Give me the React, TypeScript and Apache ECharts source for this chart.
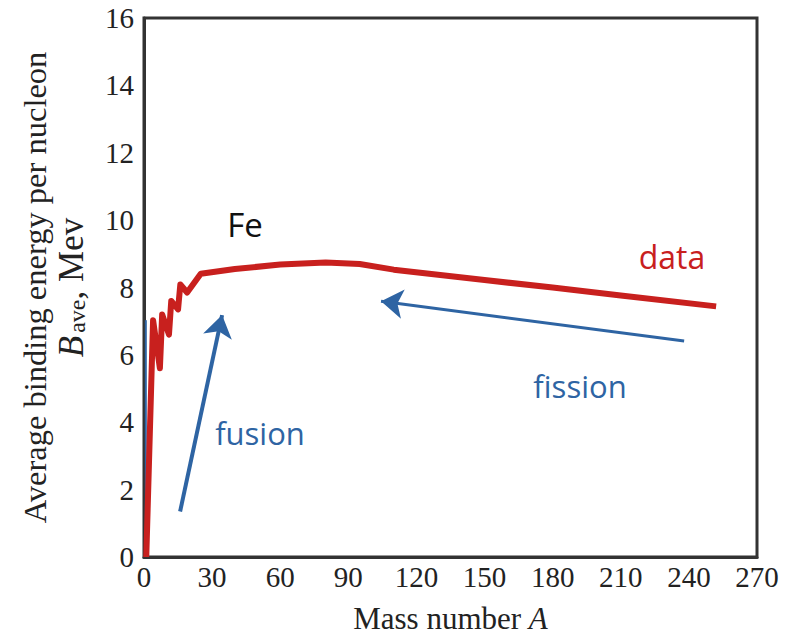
import React, { useEffect, useRef } from "react";
import * as echarts from "echarts";

// Mass number A and average binding energy per nucleon (MeV)
const massNumber = [1, 4, 7, 8, 11, 12, 15, 16, 19, 25, 40, 60, 80, 95, 110, 150, 180, 210, 252];
const bindingEnergy = [0, 7.03, 5.6, 7.2, 6.6, 7.6, 7.35, 8.09, 7.85, 8.41, 8.55, 8.68, 8.74, 8.7, 8.53, 8.22, 8.0, 7.76, 7.44];

// thin blue trace along the vertical axis
const axisTraceA = [0.8, 0.8];
const axisTraceB = [0, 7.03];

// arrows: [A, B] start and end
const fusionArrow = [[15.9, 1.35], [34.4, 7.18]];
const fissionArrow = [[237.9, 6.41], [104.4, 7.59]];

const xTicks = { min: 0, max: 270, interval: 30 };
const yTicks = { min: 0, max: 16, interval: 2 };

const labels = [
  { text: "Fe", x: 245, y: 224, color: "#111111", size: 33 },
  { text: "data", x: 672, y: 256, color: "#c8201e", size: 32 },
  { text: "fission", x: 580, y: 386, color: "#2e64a3", size: 31 },
  { text: "fusion", x: 260, y: 433, color: "#2e64a3", size: 31 },
];

export default function App() {
  const ref = useRef<HTMLDivElement>(null);
  useEffect(() => {
    if (!ref.current) return;
    const chart = echarts.init(ref.current, null, { renderer: "svg" });
    const serif = "'Liberation Serif', 'DejaVu Serif', serif";
    const ink = "#222222";
    chart.setOption({
      animation: false,
      backgroundColor: "#ffffff",
      grid: {
        left: 144,
        right: 40,
        top: 18,
        bottom: 77,
        show: true,
        borderColor: "#333333",
        borderWidth: 3,
        backgroundColor: "transparent",
      },
      xAxis: {
        type: "value",
        min: xTicks.min,
        max: xTicks.max,
        interval: xTicks.interval,
        name: "Mass number {i|A}",
        nameLocation: "middle",
        nameGap: 46,
        nameTextStyle: {
          fontFamily: serif,
          fontSize: 31,
          color: ink,
          rich: { i: { fontFamily: serif, fontSize: 31, fontStyle: "italic", color: ink } },
        },
        axisLine: { show: true, lineStyle: { color: "#333333", width: 3 } },
        axisTick: { show: false },
        splitLine: { show: false },
        axisLabel: { fontFamily: serif, fontSize: 29, color: ink, margin: 5 },
      },
      yAxis: {
        type: "value",
        min: yTicks.min,
        max: yTicks.max,
        interval: yTicks.interval,
        name: "{a|Average binding energy per nucleon}\n{b|B}{c|ave}{d|, Mev}",
        nameLocation: "middle",
        nameRotate: 90,
        nameGap: 55,
        nameTextStyle: {
          fontFamily: serif,
          color: ink,
          rich: {
            a: { fontFamily: serif, fontSize: 32.5, color: ink, lineHeight: 36 },
            b: { fontFamily: serif, fontSize: 35, fontStyle: "italic", color: ink, lineHeight: 36 },
            c: { fontFamily: serif, fontSize: 24, color: ink, verticalAlign: "bottom", lineHeight: 36, padding: [0, 0, 0, 3] },
            d: { fontFamily: serif, fontSize: 35, color: ink, lineHeight: 36 },
          },
        },
        axisLine: { show: true, lineStyle: { color: "#333333", width: 3 } },
        axisTick: { show: false },
        splitLine: { show: false },
        axisLabel: { fontFamily: serif, fontSize: 29, color: ink, margin: 10 },
      },
      series: [
        {
          type: "line",
          data: axisTraceA.map((a, i) => [a, axisTraceB[i]]),
          showSymbol: false,
          lineStyle: { color: "#2e64a3", width: 2 },
          silent: true,
        },
        {
          type: "line",
          data: massNumber.map((a, i) => [a, bindingEnergy[i]]),
          showSymbol: false,
          lineStyle: { color: "#c8201e", width: 6, join: "round" },
        },
        {
          type: "lines",
          coordinateSystem: "cartesian2d",
          symbol: ["none", "arrow"],
          symbolSize: 22,
          lineStyle: { color: "#2e64a3", width: 4, opacity: 1 },
          data: [{ coords: fusionArrow }],
        },
        {
          type: "lines",
          coordinateSystem: "cartesian2d",
          symbol: ["none", "arrow"],
          symbolSize: 22,
          lineStyle: { color: "#2e64a3", width: 3, opacity: 1 },
          data: [{ coords: fissionArrow }],
        },
      ],
      graphic: labels.map((l) => ({
        type: "text",
        x: l.x,
        y: l.y,
        style: {
          text: l.text,
          fill: l.color,
          font: `${l.size}px 'Open Sans', 'Noto Sans', sans-serif`,
          textAlign: "center",
          textVerticalAlign: "middle",
        },
      })),
    });
    return () => chart.dispose();
  }, []);
  return (
    <div
      ref={ref}
      style={{ position: "fixed", left: 0, top: 0, width: 797, height: 639 }}
    />
  );
}
